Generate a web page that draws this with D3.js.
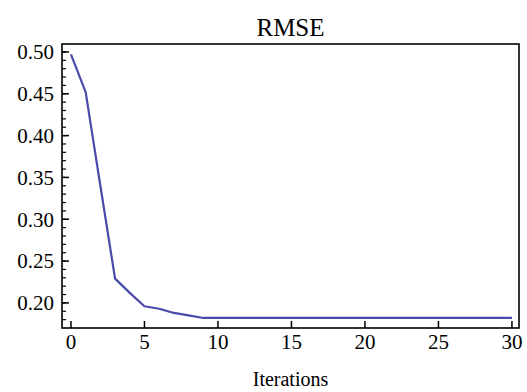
<!DOCTYPE html>
<html>
<head>
<meta charset="utf-8">
<script src="https://cdn.jsdelivr.net/npm/d3@7"></script>
<style>
  body { margin: 0; background: #fff; }
  text { font-family: "Liberation Serif", "DejaVu Serif", serif; fill: #000; }
</style>
</head>
<body>
<div id="chart"></div>
<script>
// datos
const iterations = d3.range(0, 31);
const rmse = [0.497, 0.452, 0.340, 0.229, 0.212, 0.196, 0.193, 0.188, 0.185, 0.182,
  0.182, 0.182, 0.182, 0.182, 0.182, 0.182, 0.182, 0.182, 0.182, 0.182,
  0.182, 0.182, 0.182, 0.182, 0.182, 0.182, 0.182, 0.182, 0.182, 0.182, 0.182];
const xTicks = [0, 5, 10, 15, 20, 25, 30];
const yTicks = [0.20, 0.25, 0.30, 0.35, 0.40, 0.45, 0.50];
const title = "RMSE";
const xLabel = "Iterations";

const width = 527;
const height = 392;
const margin = { top: 44, bottom: 64, left: 62, right: 8 };

const svg = d3.select("div#chart")
  .append("svg")
  .attr("width", width)
  .attr("height", height);

const x = d3.scaleLinear().domain([-0.61, 30.48]).range([margin.left, width - margin.right]);
const y = d3.scaleLinear().domain([0.170, 0.5095]).range([height - margin.bottom, margin.top]);

// ticks menores del eje y
const yMinor = d3.range(17, 51).map((d) => d / 100).filter((d) => d > 0.1705);

svg.append("g")
  .selectAll("line.minor")
  .data(yMinor)
  .enter()
  .append("line")
  .attr("x1", margin.left)
  .attr("x2", margin.left + 4)
  .attr("y1", (d) => y(d))
  .attr("y2", (d) => y(d))
  .attr("stroke", "#000")
  .attr("stroke-width", 1.2);

svg.append("g")
  .selectAll("line.major")
  .data(yTicks)
  .enter()
  .append("line")
  .attr("x1", margin.left)
  .attr("x2", margin.left + 7)
  .attr("y1", (d) => y(d))
  .attr("y2", (d) => y(d))
  .attr("stroke", "#000")
  .attr("stroke-width", 1.5);

svg.append("g")
  .selectAll("text")
  .data(yTicks)
  .enter()
  .append("text")
  .attr("x", margin.left - 8)
  .attr("y", (d) => y(d))
  .attr("dy", "0.35em")
  .attr("text-anchor", "end")
  .attr("font-size", 21)
  .text((d) => d3.format(".2f")(d));

// ticks eje x
svg.append("g")
  .selectAll("line")
  .data(xTicks)
  .enter()
  .append("line")
  .attr("x1", (d) => x(d))
  .attr("x2", (d) => x(d))
  .attr("y1", height - margin.bottom)
  .attr("y2", height - margin.bottom - 7)
  .attr("stroke", "#000")
  .attr("stroke-width", 1.5);

svg.append("g")
  .selectAll("text")
  .data(xTicks)
  .enter()
  .append("text")
  .attr("x", (d) => x(d))
  .attr("y", height - margin.bottom + 6)
  .attr("dy", "0.71em")
  .attr("text-anchor", "middle")
  .attr("font-size", 21)
  .text((d) => d);

// linea
const line = d3.line()
  .x((d, i) => x(iterations[i]))
  .y((d) => y(d));

svg.append("path")
  .datum(rmse)
  .attr("d", line)
  .attr("fill", "none")
  .attr("stroke", "#4a4aaa")
  .attr("stroke-width", 2.2)
  .attr("stroke-linejoin", "round");

// marco
svg.append("rect")
  .attr("x", margin.left)
  .attr("y", margin.top)
  .attr("width", width - margin.right - margin.left)
  .attr("height", height - margin.bottom - margin.top)
  .attr("fill", "none")
  .attr("stroke", "#000")
  .attr("stroke-width", 1.6);

svg.append("text")
  .attr("x", (margin.left + width - margin.right) / 2)
  .attr("y", 36)
  .attr("text-anchor", "middle")
  .attr("font-size", 25)
  .text(title);

svg.append("text")
  .attr("x", (margin.left + width - margin.right) / 2)
  .attr("y", 386)
  .attr("text-anchor", "middle")
  .attr("font-size", 20)
  .text(xLabel);
</script>
</body>
</html>
